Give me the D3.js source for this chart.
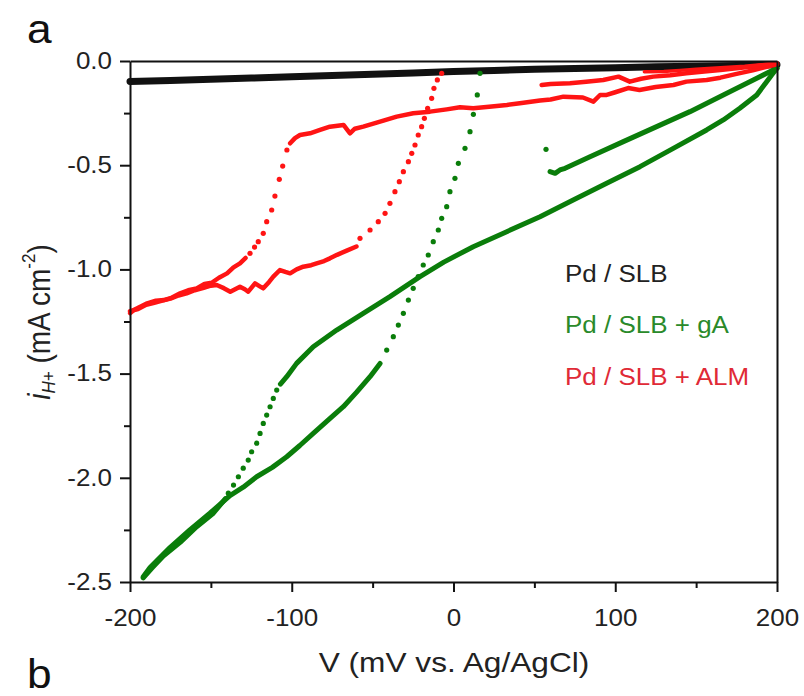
<!DOCTYPE html>
<html>
<head>
<meta charset="utf-8">
<script src="https://cdn.jsdelivr.net/npm/d3@7"></script>
<style>
  body { margin: 0; background: #fff; }
  svg { display: block; font-family: "Liberation Sans", Arial, sans-serif; }
</style>
</head>
<body>
<svg id="chart"></svg>
<script>
var width = 804;
var height = 696;

// axis ticks
var xTicks = [-200, -100, 0, 100, 200];
var xTickLabels = ["-200", "-100", "0", "100", "200"];
var xMinor = [-150, -50, 50, 150];
var yTicks = [0, -0.5, -1.0, -1.5, -2.0, -2.5];
var yTickLabels = ["0.0", "-0.5", "-1.0", "-1.5", "-2.0", "-2.5"];
var yMinor = [-0.25, -0.75, -1.25, -1.75, -2.25];

var seriesNames = ["Pd / SLB", "Pd / SLB + gA", "Pd / SLB + ALM"];

// Pd / SLB  (V mV, i mA cm-2), both sweeps lie on top of each other
var slb = [[-200,-0.098],[-175,-0.093],[-150,-0.088],[-125,-0.082],[-100,-0.076],[-75,-0.070],
  [-50,-0.063],[-25,-0.057],[0,-0.050],[25,-0.045],[50,-0.040],[75,-0.036],[100,-0.032],
  [125,-0.028],[150,-0.025],[175,-0.022],[200,-0.018]];

// Pd / SLB + gA
var gaSweep1 = [[200,-0.035],[196.7,-0.067],[193.6,-0.099],[187.5,-0.163],[177,-0.227],[166.8,-0.283],
  [156.5,-0.331],[135.9,-0.419],[115.3,-0.507],[94.7,-0.587],[74,-0.667],[53.5,-0.747],[32.9,-0.819],
  [12.2,-0.891],[-6,-0.965],[-20.7,-1.035],[-39.3,-1.131],[-55.8,-1.211],[-72.2,-1.291],
  [-86.7,-1.371],[-97,-1.451],[-103.1,-1.515],[-107,-1.55]];
var gaDrop = [[-109.3,-1.579],[-111.4,-1.619],[-113.4,-1.659],[-115.5,-1.699],[-117.6,-1.739],
  [-119.6,-1.787],[-121.7,-1.834],[-124.8,-1.875],[-126.9,-1.915],[-130,-1.954],[-133,-1.995],
  [-136,-2.035],[-139.2,-2.074]];
var gaSweep2 = [[-141,-2.10],[-148.5,-2.17],[-158.8,-2.235],[-169,-2.31],[-179.4,-2.375],
  [-186,-2.43],[-191.8,-2.48]];
var gaSweep3 = [[-191.8,-2.475],[-187.6,-2.43],[-175.3,-2.335],[-163,-2.25],[-150.6,-2.17],
  [-138.2,-2.085],[-130,-2.045],[-121.7,-1.995],[-112,-1.95],[-103.1,-1.899],[-95,-1.845],
  [-86.7,-1.787],[-77,-1.72],[-68.1,-1.659],[-60,-1.59],[-51.6,-1.515],[-45.4,-1.451]];
var gaRise = [[-41.3,-1.387],[-37.2,-1.323],[-34.1,-1.267],[-31,-1.211],[-27.9,-1.147],
  [-24.9,-1.091],[-21.8,-1.035],[-18.7,-0.979],[-15.6,-0.931],[-12.5,-0.867],[-9.4,-0.811],
  [-7.3,-0.755],[-4.2,-0.699],[-2.2,-0.627],[0.9,-0.563],[3,-0.491],[7.1,-0.419],[10.2,-0.339],
  [12.3,-0.256],[14.7,-0.163],[16.4,-0.059],[57.2,-0.424]];
var gaSweep4 = [[59.7,-0.531],[62.8,-0.539],[65.8,-0.523],[69,-0.515],[84.4,-0.459],[105,-0.387],
  [125.6,-0.315],[146.2,-0.243],[166.8,-0.163],[187.5,-0.083],[197.7,-0.043],[200,-0.035]];

// Pd / SLB + ALM
var almSweep1 = [[200,-0.015],[198,-0.019],[185,-0.045],[175,-0.062],[165,-0.08],[156.5,-0.091],
  [144,-0.099],[136,-0.115],[125,-0.125],[115,-0.139],[108,-0.13],[100,-0.15],[94.7,-0.163],
  [90.6,-0.163],[86.5,-0.195],[80,-0.175],[68,-0.171],[60,-0.185],[53.5,-0.19],[41,-0.203],
  [33,-0.211],[22,-0.22],[12.2,-0.227],[4,-0.222],[-4.2,-0.232],[-14.5,-0.243],[-24.9,-0.251],
  [-35.1,-0.267],[-45.4,-0.291],[-55.8,-0.315],[-61,-0.325],[-64,-0.347],[-68,-0.307],
  [-76.4,-0.315],[-82.5,-0.331],[-88.7,-0.347],[-94.9,-0.355],[-98,-0.37],[-101,-0.395]];
var almDrop = [[-103,-0.427],[-105.6,-0.504],[-107.7,-0.568],[-110.4,-0.648],[-112.4,-0.715],
  [-115.5,-0.771],[-117.6,-0.827],[-120.7,-0.867],[-123,-0.893],[-125.8,-0.923]];
var almSweep2 = [[-128.5,-0.945],[-132,-0.971],[-136,-0.99],[-140,-1.019],[-145,-1.04],
  [-149.5,-1.064],[-154,-1.07],[-158.8,-1.091],[-164,-1.1],[-169,-1.115],[-174,-1.135],
  [-179,-1.147],[-184,-1.15],[-189.4,-1.163],[-194,-1.18],[-197.6,-1.195],[-200,-1.21]];
var almSweep3 = [[-200,-1.2],[-195,-1.19],[-190,-1.17],[-185,-1.16],[-180,-1.15],[-175,-1.14],
  [-170,-1.125],[-165,-1.115],[-160,-1.1],[-155,-1.09],[-150,-1.078],[-146.4,-1.075],
  [-142,-1.09],[-138,-1.107],[-135,-1.095],[-132,-1.083],[-129,-1.095],[-126.9,-1.107],
  [-122.7,-1.067],[-120,-1.08],[-117.6,-1.091],[-114,-1.06],[-111.4,-1.035],[-107.3,-1.003],
  [-104,-1.012],[-101,-1.019],[-97,-1.0],[-92.9,-0.987],[-88,-0.98],[-84.6,-0.971],
  [-80,-0.96],[-76.4,-0.947],[-72,-0.93],[-66,-0.91],[-60,-0.89]];
var almRise = [[-57.8,-0.851],[-51.6,-0.811],[-46.5,-0.771],[-42.3,-0.731],[-39.3,-0.683],
  [-36.2,-0.627],[-33.5,-0.579],[-31,-0.531],[-27.9,-0.483],[-25.8,-0.443],[-23.8,-0.403],
  [-21.8,-0.355],[-19.7,-0.315],[-18,-0.275],[-16,-0.227],[-13.5,-0.179],[-12.1,-0.131],
  [-10,-0.091],[-7.3,-0.059]];
var almSweep4 = [[54.5,-0.115],[60,-0.11],[72,-0.107],[82,-0.1],[92.6,-0.091],[102,-0.075],
  [109,-0.099],[116,-0.085],[123.5,-0.075],[134,-0.068],[144,-0.059],[155,-0.05],[165,-0.043],
  [175,-0.035],[185,-0.027],[193,-0.018],[200,-0.011]];
var almSweep5 = [[118,-0.052],[130,-0.05],[140,-0.045],[150,-0.04],[160,-0.035],[170,-0.03],
  [180,-0.025],[190,-0.018],[200,-0.012]];

var black = "#111111";
var green = "#0a7d0a";
var red = "#ff1414";
var legendColors = ["#222222", "#2a8a2a", "#e02a36"];

// dense stretches are drawn as a thick trace, fast stretches as single dots
var runs = [
  {data: slb, color: black, kind: "line", w: 7},
  {data: gaSweep1, color: green, kind: "line", w: 5},
  {data: gaDrop, color: green, kind: "dots"},
  {data: gaSweep2, color: green, kind: "line", w: 5},
  {data: gaSweep3, color: green, kind: "line", w: 5},
  {data: gaRise, color: green, kind: "dots"},
  {data: gaSweep4, color: green, kind: "line", w: 5},
  {data: almSweep1, color: red, kind: "line", w: 4.5},
  {data: almDrop, color: red, kind: "dots"},
  {data: almSweep2, color: red, kind: "line", w: 4.5},
  {data: almSweep3, color: red, kind: "line", w: 4.5},
  {data: almRise, color: red, kind: "dots"},
  {data: almSweep4, color: red, kind: "line", w: 4.5},
  {data: almSweep5, color: red, kind: "line", w: 3.5}
];

// plot box (window.top is read-only, so no bare "top" here)
var padLeft = 130, padRight = 777, padTop = 61, padBottom = 582;
var stretch = 1.13;

var xScale = d3.scaleLinear().domain([-200, 200]).range([padLeft, padRight]);
var yScale = d3.scaleLinear().domain([-2.5, 0]).range([padBottom, padTop]);

var svg = d3.select("#chart")
    .attr("width", width)
    .attr("height", height);

var line = d3.line()
    .x(function(d) { return xScale(d[0]); })
    .y(function(d) { return yScale(d[1]); });

var plot = svg.append("g");
runs.forEach(function(r) {
    if (r.kind === "line") {
        plot.append("path")
            .attr("d", line(r.data))
            .attr("fill", "none")
            .attr("stroke", r.color)
            .attr("stroke-width", r.w)
            .attr("stroke-linejoin", "round")
            .attr("stroke-linecap", "round");
    } else {
        plot.selectAll(null)
            .data(r.data)
            .enter()
            .append("circle")
                .attr("cx", function(d) { return xScale(d[0]); })
                .attr("cy", function(d) { return yScale(d[1]); })
                .attr("r", 2.6)
                .attr("fill", r.color);
    }
});

function styleAxis(g) {
    g.attr("font-family", null).attr("font-size", null).attr("color", "#111");
    g.selectAll("line").attr("stroke-width", 2);
    g.select(".domain").attr("stroke-width", 2);
}

// minor ticks
svg.append("g")
    .attr("transform", "translate(0," + padBottom + ")")
    .call(d3.axisBottom(xScale).tickValues(xMinor).tickSize(6).tickFormat(""))
    .call(styleAxis)
    .call(function(g) { g.select(".domain").remove(); });
svg.append("g")
    .attr("transform", "translate(" + padLeft + ",0)")
    .call(d3.axisLeft(yScale).tickValues(yMinor).tickSize(6).tickFormat(""))
    .call(styleAxis)
    .call(function(g) { g.select(".domain").remove(); });

// frame top / right
svg.append("g")
    .attr("transform", "translate(0," + padTop + ")")
    .call(d3.axisTop(xScale).tickValues([]).tickSizeOuter(0))
    .call(styleAxis);
svg.append("g")
    .attr("transform", "translate(" + padRight + ",0)")
    .call(d3.axisRight(yScale).tickValues([]).tickSizeOuter(0))
    .call(styleAxis);

// major ticks with labels
var xAxisG = svg.append("g")
    .attr("transform", "translate(0," + padBottom + ")")
    .call(d3.axisBottom(xScale).tickValues(xTicks).tickSize(10).tickSizeOuter(0)
        .tickPadding(18).tickFormat(function(d, i) { return xTickLabels[i]; }))
    .call(styleAxis);
xAxisG.selectAll("text")
    .attr("font-size", 23)
    .attr("fill", "#222")
    .attr("transform", "scale(" + stretch + ",1)");

var yAxisG = svg.append("g")
    .attr("transform", "translate(" + padLeft + ",0)")
    .call(d3.axisLeft(yScale).tickValues(yTicks).tickSize(10).tickSizeOuter(0)
        .tickFormat(function(d, i) { return yTickLabels[i]; }))
    .call(styleAxis);
yAxisG.selectAll("text")
    .attr("font-size", 23)
    .attr("fill", "#222")
    .attr("x", -18 / stretch)
    .attr("transform", "scale(" + stretch + ",1)");

// axis titles
svg.append("text")
    .attr("transform", "translate(454,672) scale(" + stretch + ",1)")
    .attr("text-anchor", "middle")
    .attr("font-size", 28)
    .attr("fill", "#222")
    .text("V (mV vs. Ag/AgCl)");

var yTitle = svg.append("text")
    .attr("transform", "translate(50,322) scale(" + stretch + ",1) rotate(-90)")
    .attr("text-anchor", "middle")
    .attr("font-size", 28)
    .attr("fill", "#222");
yTitle.append("tspan").attr("font-style", "italic").text("i");
yTitle.append("tspan").attr("font-style", "italic").attr("font-size", 17).attr("dy", 4).text("H+");
yTitle.append("tspan").attr("dy", -4).text(" (mA cm");
yTitle.append("tspan").attr("font-size", 17).attr("dy", -13).text("-2");
yTitle.append("tspan").attr("dy", 13).text(")");

// legend
var legendY = [282, 333, 385];
seriesNames.forEach(function(name, i) {
    svg.append("text")
        .attr("transform", "translate(565," + legendY[i] + ") scale(" + stretch + ",1)")
        .attr("font-size", 23)
        .attr("fill", legendColors[i])
        .text(name);
});

// panel letters
svg.append("text")
    .attr("transform", "translate(27,43) scale(1.08,1)")
    .attr("font-size", 41)
    .attr("fill", "#111")
    .text("a");
svg.append("text")
    .attr("transform", "translate(27,688) scale(1.08,1)")
    .attr("font-size", 41)
    .attr("fill", "#111")
    .text("b");
</script>
</body>
</html>
